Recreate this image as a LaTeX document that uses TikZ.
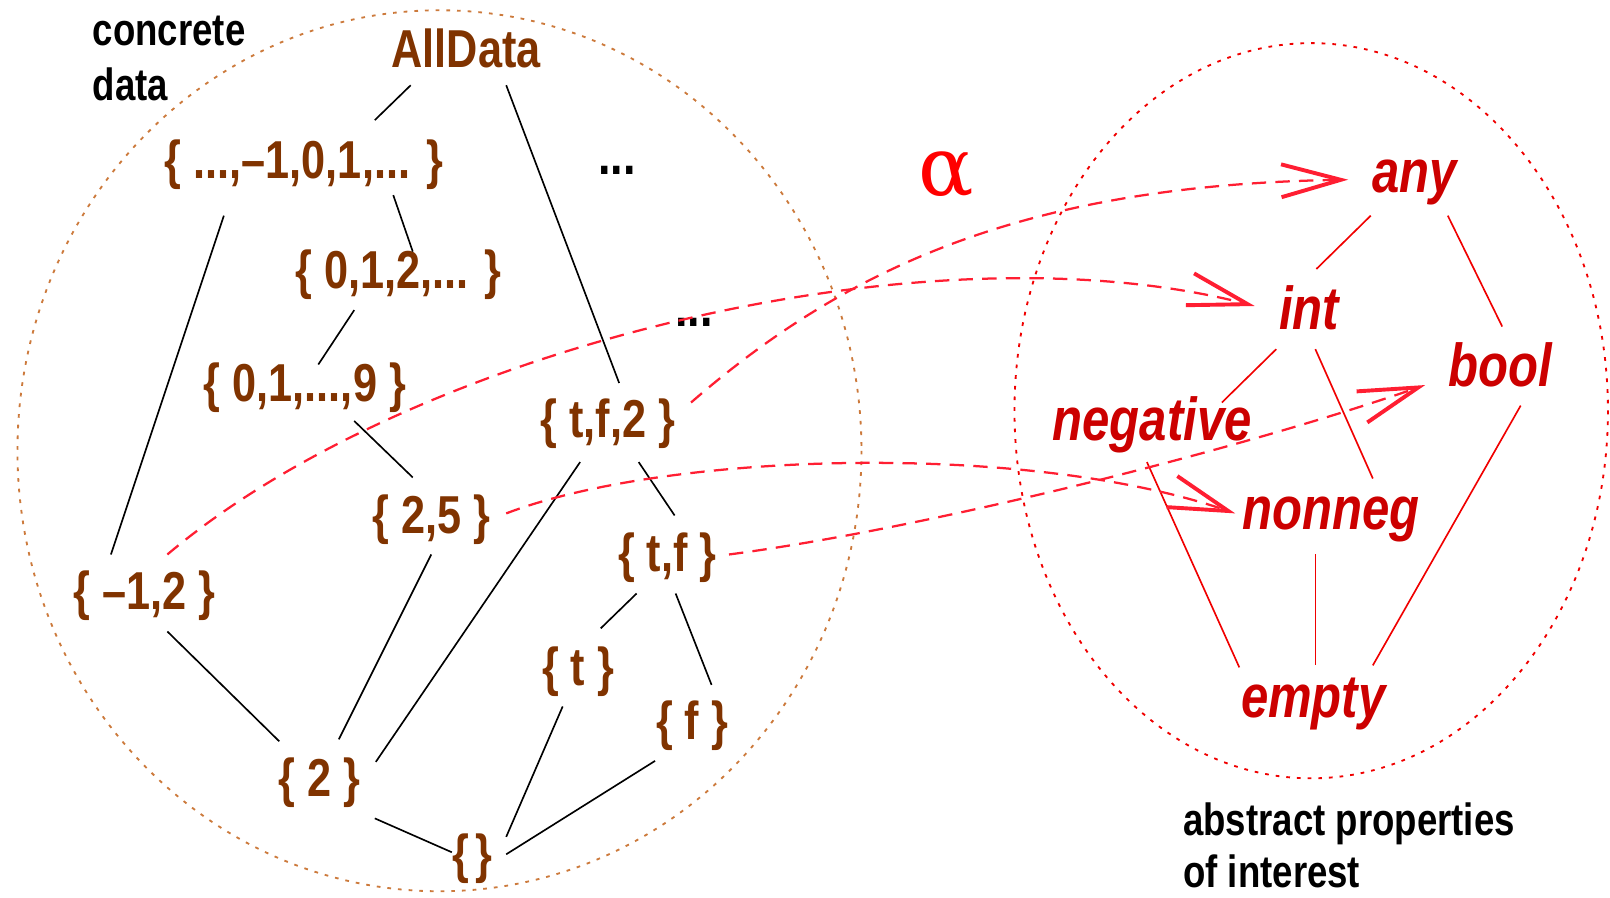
\documentclass[tikz,border=0pt]{standalone}
\usepackage{fontspec}
\setmainfont{Liberation Sans}[FakeStretch=0.81]
\newfontfamily\serifgreek{DejaVu Serif}
\usetikzlibrary{arrows.meta}
\definecolor{setbrown}{RGB}{128,51,0}
\definecolor{ellbrown}{RGB}{204,122,60}
\definecolor{absred}{RGB}{204,0,0}
\definecolor{linered}{RGB}{240,0,0}
\definecolor{dashred}{RGB}{255,30,50}
\begin{document}
\begin{tikzpicture}[x=0.5pt,y=-0.5pt,
  setnode/.style={inner sep=0, text=setbrown, font=\bfseries\fontsize{26}{30}\selectfont},
  absnode/.style={inner sep=0, text=absred, font=\bfseries\itshape\fontsize{29.5}{33}\selectfont},
  capnode/.style={inner sep=0, align=left, anchor=north west, font=\bfseries\fontsize{22}{27}\selectfont},
  dotsnode/.style={inner sep=0, font=\bfseries\fontsize{27}{29}\selectfont},
  ordline/.style={draw=black, line width=0.8pt},
  absline/.style={draw=linered, line width=0.8pt},
  alphamap/.style={draw=dashred, line width=1.1pt, dash pattern=on 7pt off 4.5pt,
    -{Straight Barb[length=29pt,width=16pt,line width=1.9pt]}},
  regionline/.style={line width=0.9pt, dash pattern=on 1.8pt off 3.4pt}
]
\useasboundingbox (0,0) rectangle (1568,874);

% regions
\draw[regionline, draw=ellbrown] (428,439) ellipse [x radius=411, y radius=429];
\draw[regionline, draw=linered] (1277,400) ellipse [x radius=289, y radius=358];

% captions
\node[capnode] (conc) at (90,15) {concrete\\data};
\node[capnode, font=\bfseries\fontsize{22}{25.5}\selectfont] (abst) at (1152,781) {abstract properties\\of interest};

% concrete sets
\node[setnode] (AD) at (454,47) {AllData};
\node[setnode] (Z) at (296,160) {\{ ...,–1,0,1,... \}};
\node[setnode] (N) at (388,268) {\{ 0,1,2,... \}};
\node[setnode] (D) at (297,378) {\{ 0,1,...,9 \}};
\node[setnode] (TF2) at (592,413) {\{ t,f,2 \}};
\node[setnode] (F25) at (420,506) {\{ 2,5 \}};
\node[setnode] (TF) at (650,543) {\{ t,f \}};
\node[setnode] (M12) at (141,580) {\{ –1,2 \}};
\node[setnode] (T) at (563,654) {\{ t \}};
\node[setnode] (F) at (674,707) {\{ f \}};
\node[setnode] (TWO) at (311,762) {\{ 2 \}};
\node[setnode] (E) at (460,836) {\{\kern3pt\}};
\node[dotsnode] (dotsA) at (601,166) {...};
\node[dotsnode] (dotsB) at (676,314) {...};

% abstract properties
\node[absnode] (any) at (1378,178) {any};
\node[absnode] (int) at (1275,300) {int};
\node[absnode] (bool) at (1461,355) {bool};
\node[absnode] (neg) at (1122,414) {negative};
\node[absnode] (nonneg) at (1296,506) {nonneg};
\node[absnode] (empty) at (1279,686) {empty};

\node[inner sep=0, text=red, font=\serifgreek\fontsize{40}{44}\selectfont] (alpha) at (922,170) {α};

% concrete order
\draw[ordline] ([shift={(-54,36)}]AD.center) -- ([shift={(69,-43)}]Z.center);
\draw[ordline] ([shift={(39,36)}]AD.center) -- ([shift={(11,-40)}]TF2.center);
\draw[ordline] ([shift={(87,30)}]Z.center) -- ([shift={(14,-23)}]N.center);
\draw[ordline] ([shift={(-78,50)}]Z.center) -- ([shift={(-33,-40)}]M12.center);
\draw[ordline] ([shift={(-43,34)}]N.center) -- ([shift={(13,-23)}]D.center);
\draw[ordline] ([shift={(48,32)}]D.center) -- ([shift={(-18,-41)}]F25.center);
\draw[ordline] ([shift={(-27,37)}]TF2.center) -- ([shift={(55,-20)}]TWO.center);
\draw[ordline] ([shift={(30,37)}]TF2.center) -- ([shift={(7,-41)}]TF.center);
\draw[ordline] ([shift={(0,34)}]F25.center) -- ([shift={(19,-42)}]TWO.center);
\draw[ordline] ([shift={(22,35)}]M12.center) -- ([shift={(-39,-40)}]TWO.center);
\draw[ordline] ([shift={(-30,35)}]TF.center) -- ([shift={(22,-42)}]T.center);
\draw[ordline] ([shift={(8,35)}]TF.center) -- ([shift={(19,-40)}]F.center);
\draw[ordline] ([shift={(-15,34)}]T.center) -- ([shift={(33,-21)}]E.center);
\draw[ordline] ([shift={(-36,34)}]F.center) -- ([shift={(33,-4)}]E.center);
\draw[ordline] ([shift={(54,35)}]TWO.center) -- ([shift={(-20,-6)}]E.center);

% abstract order
\draw[absline] ([shift={(-43,32)}]any.center) -- ([shift={(7,-38)}]int.center);
\draw[absline] ([shift={(32,32)}]any.center) -- ([shift={(2,-37)}]bool.center);
\draw[absline] ([shift={(-32,40)}]int.center) -- ([shift={(68,-22)}]neg.center);
\draw[absline] ([shift={(6,40)}]int.center) -- ([shift={(41,-40)}]nonneg.center);
\draw[absline] ([shift={(20,40)}]bool.center) -- ([shift={(58,-38)}]empty.center);
\draw[absline] ([shift={(-5,36)}]neg.center) -- ([shift={(-72,-36)}]empty.center);
\draw[absline] ([shift={(-15,34)}]nonneg.center) -- ([shift={(2,-38)}]empty.center);

% abstraction map
\draw[alphamap] ([shift={(22,-40)}]M12.center) .. controls +(237,-200) and +(-322,-83) .. ([shift={(-53,-2)}]int.center);
\draw[alphamap] ([shift={(81,-21)}]TF2.center) .. controls +(152,-132) and +(-313,5) .. ([shift={(-65,-3)}]any.center);
\draw[alphamap] ([shift={(73,-6)}]F25.center) .. controls +(157,-60) and +(-203,-70) .. ([shift={(-93,-6)}]nonneg.center);
\draw[alphamap] ([shift={(60,-3)}]TF.center) .. controls +(190,-25) and +(-188,65) .. ([shift={(-73,20)}]bool.center);
\end{tikzpicture}
\end{document}
